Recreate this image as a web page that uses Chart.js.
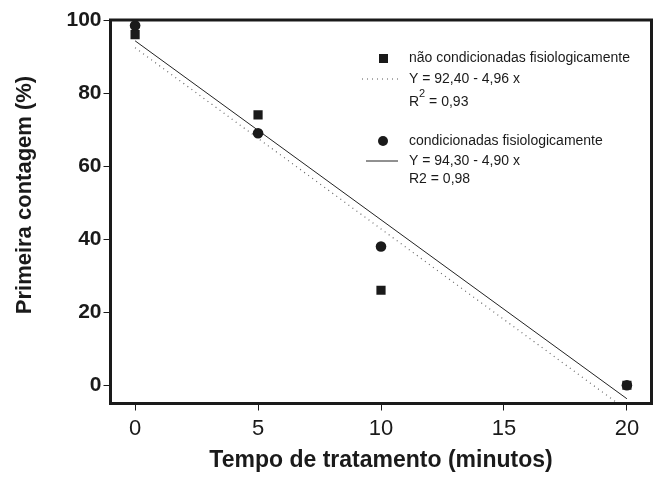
<!DOCTYPE html>
<html>
<head>
<meta charset="utf-8">
<script src="https://cdn.jsdelivr.net/npm/chart.js@4/dist/chart.umd.min.js"></script>
<style>
  html, body { margin: 0; padding: 0; background: #ffffff; }
  #wrap { width: 660px; height: 477px; position: relative; }
</style>
</head>
<body>
<div id="wrap"><canvas id="c" width="660" height="477"></canvas></div>
<script>
// ---- data ----
const xValues = [0, 5, 10, 20];                 // Tempo de tratamento (minutos)
const naoCondicionadas = [96, 74, 26, 0];        // squares
const condicionadas = [98.5, 69, 38, 0];         // circles
const fitX = [0, 20];                            // extent of fitted lines
const fitNao = [92.4, -6.8];                     // Y = 92,40 - 4,96 x
const fitCond = [94.3, -3.7];                    // Y = 94,30 - 4,90 x
const xTicks = [0, 5, 10, 15, 20];
const yTicks = [0, 20, 40, 60, 80, 100];
const legendLabels = [
  'não condicionadas fisiologicamente',
  'Y = 92,40 - 4,96 x',
  '= 0,93',
  'condicionadas fisiologicamente',
  'Y = 94,30 - 4,90 x',
  'R2 = 0,98'
];
const xTitle = 'Tempo de tratamento (minutos)';
const yTitle = 'Primeira contagem (%)';

const toPts = (xs, ys) => xs.map((x, i) => ({ x: x, y: ys[i] }));

const FONT = '"Liberation Sans", Arial, Helvetica, sans-serif';
const INK = '#1a1a1a';

const framePlugin = {
  id: 'frame',
  afterDraw(chart) {
    const { ctx, chartArea: a } = chart;
    ctx.save();
    ctx.strokeStyle = INK;
    ctx.lineWidth = 3;
    ctx.strokeRect(a.left, a.top, a.right - a.left, a.bottom - a.top);

    // y axis title (sits slightly above the plot centre in the reference)
    ctx.save();
    ctx.fillStyle = INK;
    ctx.font = 'bold 22px ' + FONT;
    ctx.textAlign = 'center';
    ctx.textBaseline = 'middle';
    ctx.translate(25, 195);
    ctx.rotate(-Math.PI / 2);
    ctx.fillText(yTitle, 0, 0);
    ctx.restore();

    // legend block
    ctx.fillStyle = INK;
    ctx.textBaseline = 'middle';
    ctx.textAlign = 'left';
    ctx.font = '14px ' + FONT;
    const tx = 409;
    // square marker
    ctx.fillRect(379, 54, 9, 9);
    ctx.fillText(legendLabels[0], tx, 58);
    // dotted line sample
    ctx.strokeStyle = '#555';
    ctx.lineWidth = 1;
    ctx.setLineDash([1, 4]);
    ctx.beginPath(); ctx.moveTo(362, 79); ctx.lineTo(399, 79); ctx.stroke();
    ctx.setLineDash([]);
    ctx.fillText(legendLabels[1], tx, 79);
    // R^2
    ctx.fillText('R', tx, 102);
    const rw = ctx.measureText('R').width;
    ctx.font = '11px ' + FONT;
    ctx.fillText('2', tx + rw, 94);
    const sw = ctx.measureText('2').width;
    ctx.font = '14px ' + FONT;
    ctx.fillText(' ' + legendLabels[2], tx + rw + sw, 102);
    // circle marker
    ctx.beginPath(); ctx.arc(383, 141, 5, 0, Math.PI * 2); ctx.fill();
    ctx.fillText(legendLabels[3], tx, 141);
    // solid line sample
    ctx.strokeStyle = '#222';
    ctx.lineWidth = 1;
    ctx.beginPath(); ctx.moveTo(366, 161); ctx.lineTo(398, 161); ctx.stroke();
    ctx.fillText(legendLabels[4], tx, 161);
    ctx.fillText(legendLabels[5], tx, 179);
    ctx.restore();
  }
};

new Chart(document.getElementById('c'), {
  type: 'scatter',
  data: {
    datasets: [
      {
        label: 'condicionadas fisiologicamente',
        data: toPts(xValues, condicionadas),
        pointStyle: 'circle',
        pointRadius: 5.3,
        backgroundColor: INK,
        borderColor: INK,
        borderWidth: 0,
        order: 0
      },
      {
        label: 'não condicionadas fisiologicamente',
        data: toPts(xValues, naoCondicionadas),
        pointStyle: 'rect',
        pointRadius: 6.5,
        backgroundColor: INK,
        borderColor: INK,
        borderWidth: 0,
        order: 1
      },
      {
        label: 'fit condicionadas',
        data: toPts(fitX, fitCond),
        showLine: true,
        borderColor: '#222',
        borderWidth: 1,
        pointRadius: 0,
        order: 2
      },
      {
        label: 'fit não condicionadas',
        data: toPts(fitX, fitNao),
        showLine: true,
        borderColor: '#666',
        borderWidth: 1.2,
        borderDash: [1, 4],
        pointRadius: 0,
        order: 3
      }
    ]
  },
  options: {
    responsive: false,
    animation: false,
    devicePixelRatio: 1,
    layout: { padding: { left: 0, right: 8.5, top: 20, bottom: 0 } },
    plugins: { legend: { display: false }, tooltip: { enabled: false } },
    scales: {
      x: {
        type: 'linear',
        min: -1, max: 21,
        afterBuildTicks(s) { s.ticks = xTicks.map(v => ({ value: v })); },
        afterFit(s) { s.height = 73.5; },
        border: { display: false },
        grid: { drawOnChartArea: false, drawTicks: true, tickLength: 7, color: INK, lineWidth: 1 },
        ticks: { color: INK, padding: 5, font: { family: FONT, size: 22 }, maxRotation: 0 },
        title: { display: true, text: xTitle, color: INK, padding: { top: 0, bottom: 2.5 }, font: { family: FONT, size: 23, weight: 'bold' } }
      },
      y: {
        type: 'linear',
        min: -5, max: 100,
        afterBuildTicks(s) { s.ticks = yTicks.map(v => ({ value: v })); },
        afterFit(s) { s.width = 110.5; },
        border: { display: false },
        grid: { drawOnChartArea: false, drawTicks: true, tickLength: 7, color: INK, lineWidth: 1 },
        ticks: { color: INK, padding: 2, font: { family: FONT, size: 21, weight: 'bold' } },
        title: { display: false }
      }
    }
  },
  plugins: [framePlugin]
});
</script>
</body>
</html>
